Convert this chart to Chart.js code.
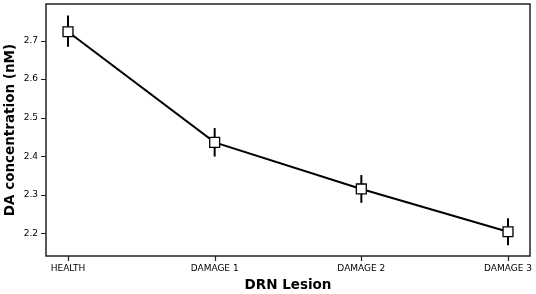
<!DOCTYPE html>
<html>
<head>
<meta charset="utf-8">
<script src="https://cdn.jsdelivr.net/npm/chart.js@4/dist/chart.umd.min.js"></script>
<style>
  html, body { margin: 0; padding: 0; background: #fff; }
  #wrap { width: 536px; height: 294px; }
</style>
</head>
<body>
<div id="wrap"><canvas id="chartCanvas" width="536" height="294"></canvas></div>
<script>
// 類別與數值
const categories = ['HEALTH', 'DAMAGE 1', 'DAMAGE 2', 'DAMAGE 3'];
const concentration = [2.723, 2.436, 2.315, 2.204];
const errLow = [2.684, 2.399, 2.279, 2.169];
const errHigh = [2.765, 2.473, 2.351, 2.239];
const yTicks = [2.2, 2.3, 2.4, 2.5, 2.6, 2.7];

const FONT = 'DejaVu Sans';

// 誤差線 (畫在點之下)
const errorBars = {
    id: 'errorBars',
    beforeDatasetsDraw(chart) {
        const { ctx, scales } = chart;
        ctx.save();
        ctx.strokeStyle = '#000';
        ctx.lineWidth = 2;
        for (let i = 0; i < categories.length; i++) {
            const x = scales.x.getPixelForValue(i);
            ctx.beginPath();
            ctx.moveTo(x, scales.y.getPixelForValue(errLow[i]));
            ctx.lineTo(x, scales.y.getPixelForValue(errHigh[i]));
            ctx.stroke();
        }
        ctx.restore();
    }
};

// 外框與刻度線
const frame = {
    id: 'frame',
    afterDraw(chart) {
        const { ctx, chartArea: a, scales } = chart;
        ctx.save();
        ctx.strokeStyle = '#222';
        ctx.lineWidth = 1.2;
        ctx.beginPath();
        scales.x.ticks.forEach(t => {
            const x = Math.round(scales.x.getPixelForValue(t.value)) + 0.5;
            ctx.moveTo(x, a.bottom);
            ctx.lineTo(x, a.bottom + 5);
        });
        scales.y.ticks.forEach(t => {
            const y = Math.round(scales.y.getPixelForValue(t.value)) + 0.5;
            ctx.moveTo(a.left, y);
            ctx.lineTo(a.left - 5, y);
        });
        ctx.stroke();
        ctx.lineWidth = 1.5;
        ctx.strokeRect(a.left, a.top, a.right - a.left, a.bottom - a.top);
        ctx.restore();
    }
};

new Chart(document.getElementById('chartCanvas'), {
    type: 'line',
    data: {
        datasets: [{
            data: concentration.map((v, i) => ({ x: i, y: v })),
            borderColor: '#000',
            borderWidth: 2,
            pointStyle: 'rect',
            pointRadius: 7,
            pointBorderWidth: 1.3,
            pointBackgroundColor: '#fff',
            pointBorderColor: '#000',
            tension: 0
        }]
    },
    options: {
        responsive: false,
        animation: false,
        layout: { autoPadding: false, padding: { top: 4, right: 6, left: 0, bottom: 0 } },
        plugins: { legend: { display: false }, tooltip: { enabled: false } },
        scales: {
            x: {
                type: 'linear',
                min: -0.15,
                max: 3.15,
                afterBuildTicks(axis) { axis.ticks = categories.map((c, i) => ({ value: i })); },
                afterFit(axis) {
                    axis.height = 38;
                    axis.paddingLeft = 0;
                    axis.paddingRight = 0;
                },
                ticks: {
                    callback: (v) => categories[v],
                    color: '#000',
                    font: { family: FONT, size: 9 },
                    padding: 7,
                    maxRotation: 0
                },
                grid: { display: false, tickLength: 0 },
                border: { display: false },
                title: {
                    display: true,
                    text: 'DRN Lesion',
                    color: '#000',
                    font: { family: FONT, size: 13.5, weight: 'bold' },
                    padding: { top: 0, bottom: 0 }
                }
            },
            y: {
                min: 2.141,
                max: 2.795,
                afterBuildTicks(axis) { axis.ticks = yTicks.map(v => ({ value: v })); },
                afterFit(axis) {
                    axis.width = 46;
                    axis.paddingTop = 0;
                    axis.paddingBottom = 0;
                },
                ticks: {
                    callback: (v) => v.toFixed(1),
                    color: '#000',
                    font: { family: FONT, size: 9 },
                    padding: 8
                },
                grid: { display: false, tickLength: 0 },
                border: { display: false },
                title: {
                    display: true,
                    text: 'DA concentration (nM)',
                    color: '#000',
                    font: { family: FONT, size: 13.5, weight: 'bold' },
                    padding: { top: 2, bottom: 0 }
                }
            }
        }
    },
    plugins: [errorBars, frame]
});
</script>
</body>
</html>
